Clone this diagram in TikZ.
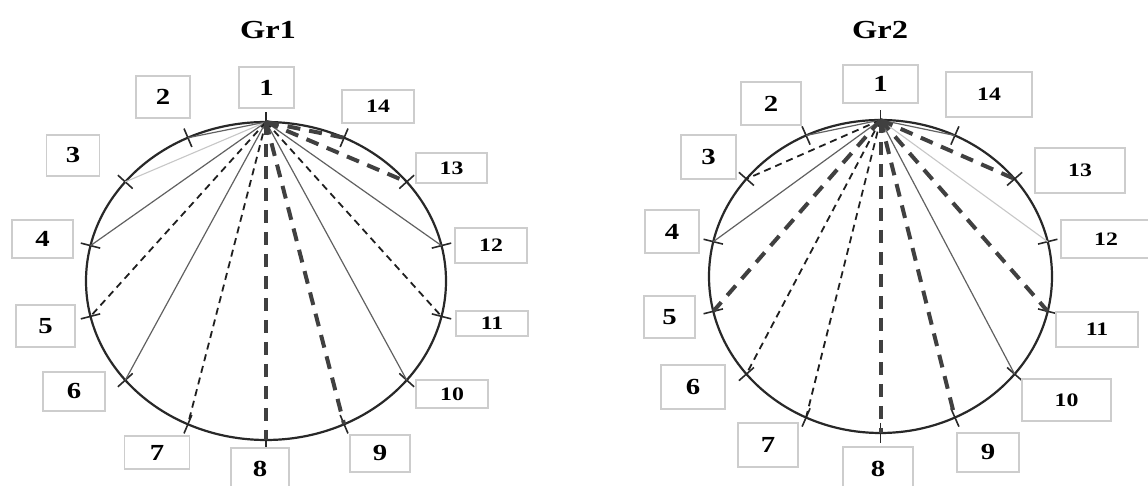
\documentclass[tikz,border=0pt]{standalone}
\usepackage{fontspec}
\setmainfont{Liberation Serif}[BoldFont={Liberation Serif Bold}]
\newcommand\widetxt[1]{\scalebox{1.25}[1]{#1}}
\definecolor{rimcol}{RGB}{40,40,40}
\definecolor{boxcol}{RGB}{205,205,205}
\tikzset{
  rim/.style={draw=rimcol,line width=2.2pt},
  tickmark/.style={draw=rimcol,line width=1.6pt},
  thinline/.style={draw=black!62,line width=1.2pt},
  faintline/.style={draw=black!22,line width=1.1pt},
  dashline/.style={draw=black!88,line width=1.8pt,dash pattern=on 7pt off 5pt},
  thickdash/.style={draw=black!75,line width=4pt,dash pattern=on 13pt off 9pt},
  lblbox/.style={draw=boxcol,line width=1.5pt,fill=white,inner sep=0pt,
    font=\fontsize{23}{23}\selectfont\bfseries},
  lblsmall/.style={lblbox,font=\fontsize{19}{19}\selectfont\bfseries},
  title/.style={font=\fontsize{26}{26}\selectfont\bfseries,inner sep=0pt},
}
\begin{document}
\begin{tikzpicture}[x=1pt,y=1pt]
\clip (0,0) rectangle (1148,486);
\fill[white] (0,0) rectangle (1148,486);

% ---- left ring (Gr1) ----
\draw[rim] (266,205) ellipse [x radius=180,y radius=159];
\foreach \k in {1,...,14}{
  \pgfmathsetmacro\a{90+(\k-1)*360/14}
  \pgfmathsetmacro\n{atan2(180*sin(\a),159*cos(\a))}
  \coordinate (L\k) at ({266+180*cos(\a)},{205+159*sin(\a)});
  \draw[tickmark,shift={(L\k)},rotate=\n] (-10,0) -- (10,0);
}
\draw[faintline] (L1) -- (L3);
\draw[thinline] (L1) -- (L2);
\draw[thinline] (L1) -- (L4);
\draw[thinline] (L1) -- (L6);
\draw[thinline] (L1) -- (L10);
\draw[thinline] (L1) -- (L12);
\draw[dashline] (L1) -- (L5);
\draw[dashline] (L1) -- (L7);
\draw[dashline] (L1) -- (L11);
\draw[thickdash] (L1) -- (L8);
\draw[thickdash] (L1) -- (L9);
\draw[thickdash] (L1) -- (L13);
\draw[thickdash] (L1) -- (L14);

% ---- right ring (Gr2) ----
\draw[rim] (880.5,209.5) ellipse [x radius=171.5,y radius=156.5];
\foreach \k in {1,...,14}{
  \pgfmathsetmacro\a{90+(\k-1)*360/14}
  \pgfmathsetmacro\n{atan2(171.5*sin(\a),156.5*cos(\a))}
  \coordinate (R\k) at ({880.5+171.5*cos(\a)},{209.5+156.5*sin(\a)});
  \draw[tickmark,shift={(R\k)},rotate=\n] (-10,0) -- (10,0);
}
\draw[faintline] (R1) -- (R12);
\draw[thinline] (R1) -- (R2);
\draw[thinline] (R1) -- (R4);
\draw[thinline] (R1) -- (R10);
\draw[thinline] (R1) -- (R14);
\draw[dashline] (R1) -- (R3);
\draw[dashline] (R1) -- (R6);
\draw[dashline] (R1) -- (R7);
\draw[thickdash] (R1) -- (R5);
\draw[thickdash] (R1) -- (R8);
\draw[thickdash] (R1) -- (R9);
\draw[thickdash] (R1) -- (R11);
\draw[thickdash] (R1) -- (R13);

% ---- titles ----
\node[title] (t1) at (268,456) {\widetxt{Gr1}};
\node[title] (t2) at (880,456) {\widetxt{Gr2}};

% ---- labels, Gr1 ----
\node[lblbox,minimum width=55,minimum height=41] (a1) at (266.5,398.5) {\widetxt{1}};
\node[lblbox,minimum width=54,minimum height=42] (a2) at (163,389) {\widetxt{2}};
\node[lblbox,minimum width=53,minimum height=41] (a3) at (73,330.5) {\widetxt{3}};
\node[lblbox,minimum width=61,minimum height=38] (a4) at (42.5,247) {\widetxt{4}};
\node[lblbox,minimum width=59,minimum height=42] (a5) at (45.5,160) {\widetxt{5}};
\node[lblbox,minimum width=62,minimum height=39] (a6) at (74,94.5) {\widetxt{6}};
\node[lblbox,minimum width=65,minimum height=33] (a7) at (157,33.5) {\widetxt{7}};
\node[lblbox,minimum width=58,minimum height=42] (a8) at (260,17) {\widetxt{8}};
\node[lblbox,minimum width=60,minimum height=37] (a9) at (380,32.5) {\widetxt{9}};
\node[lblsmall,minimum width=72,minimum height=28] (a10) at (452,92) {\widetxt{10}};
\node[lblsmall,minimum width=72,minimum height=25] (a11) at (492,162.5) {\widetxt{11}};
\node[lblsmall,minimum width=72,minimum height=35] (a12) at (491,240.5) {\widetxt{12}};
\node[lblsmall,minimum width=71,minimum height=30] (a13) at (451.5,318) {\widetxt{13}};
\node[lblsmall,minimum width=72,minimum height=33] (a14) at (378,379.5) {\widetxt{14}};

% ---- labels, Gr2 ----
\node[lblbox,minimum width=75,minimum height=38] (b1) at (880.5,402) {\widetxt{1}};
\node[lblbox,minimum width=60,minimum height=43] (b2) at (771,382.5) {\widetxt{2}};
\node[lblbox,minimum width=55,minimum height=44] (b3) at (708.5,329) {\widetxt{3}};
\node[lblbox,minimum width=54,minimum height=43] (b4) at (672,254.5) {\widetxt{4}};
\node[lblbox,minimum width=51,minimum height=42] (b5) at (669.5,169) {\widetxt{5}};
\node[lblbox,minimum width=64,minimum height=44] (b6) at (693,99) {\widetxt{6}};
\node[lblbox,minimum width=60,minimum height=44] (b7) at (768,41) {\widetxt{7}};
\node[lblbox,minimum width=70,minimum height=43] (b8) at (878,17.5) {\widetxt{8}};
\node[lblbox,minimum width=62,minimum height=39] (b9) at (988,33.5) {\widetxt{9}};
\node[lblsmall,minimum width=89,minimum height=42] (b10) at (1066.5,86) {\widetxt{10}};
\node[lblsmall,minimum width=82,minimum height=35] (b11) at (1097,156.5) {\widetxt{11}};
\node[lblsmall,minimum width=90,minimum height=38] (b12) at (1106,247) {\widetxt{12}};
\node[lblsmall,minimum width=90,minimum height=45] (b13) at (1080,315.5) {\widetxt{13}};
\node[lblsmall,minimum width=86,minimum height=45] (b14) at (989,391.5) {\widetxt{14}};
\end{tikzpicture}
\end{document}
